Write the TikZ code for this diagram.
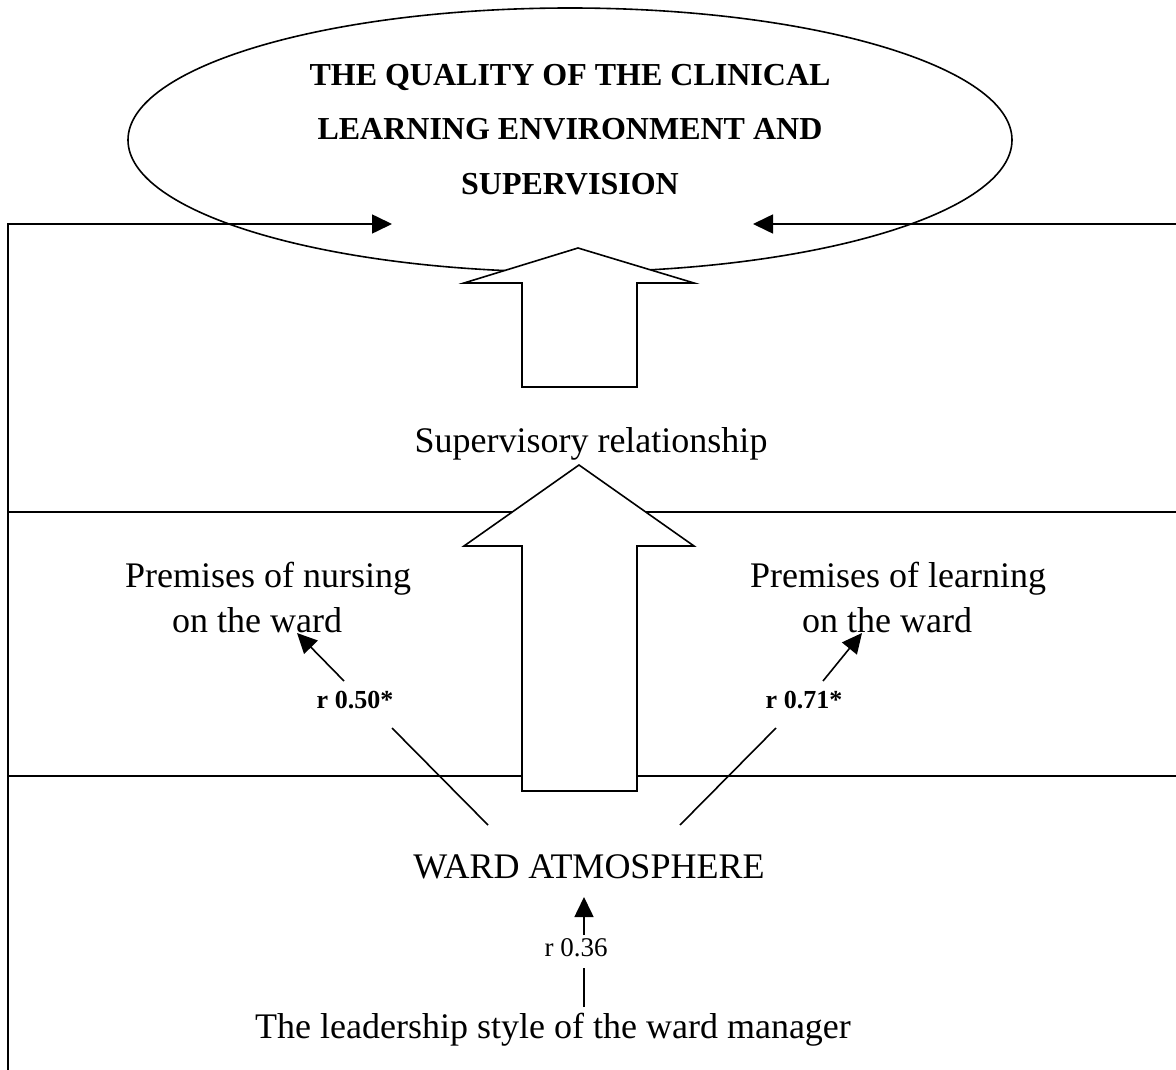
\documentclass[tikz,border=0pt]{standalone}
\usepackage{fontspec}
\setmainfont{Liberation Serif}
\usetikzlibrary{arrows.meta,shapes.geometric}
\begin{document}
\begin{tikzpicture}[x=1pt,y=-1pt,
  ln/.style={line width=1.6pt},
  arr/.style={line width=1.6pt,-{Triangle[length=20pt,width=19pt]}},
  blockarrow/.style={draw,fill=white,line width=1.6pt,line join=miter},
  txt/.style={inner sep=0pt,anchor=base,font=\fontsize{36}{45}\selectfont},
  rlab/.style={inner sep=0pt,anchor=base,font=\bfseries\fontsize{26}{30}\selectfont}]
\useasboundingbox (0,0) rectangle (1176,1070);
% goal ellipse
\node[draw,ellipse,line width=1.6pt,minimum width=884pt,minimum height=264pt,inner sep=0pt] (goal) at (570,140) {};
\node[inner sep=0pt,anchor=base,align=center,font=\bfseries\fontsize{32}{55}\selectfont] (title) at (570,195)
  {THE QUALITY OF THE CLINICAL\\LEARNING ENVIRONMENT AND\\SUPERVISION};
% frame
\coordinate (bl) at (8,1070);
\coordinate (tl) at (8,224);
\coordinate (lt) at (392,224);
\coordinate (tr) at (1176,224);
\coordinate (rt) at (753,224);
\draw[arr] (bl) -- (tl) -- (lt);
\draw[arr] (tr) -- (rt);
\coordinate (b1l) at (8,512);  \coordinate (b1r) at (1176,512);
\coordinate (b2l) at (8,776);  \coordinate (b2r) at (1176,776);
\draw[ln] (b1l) -- (b1r);
\draw[ln] (b2l) -- (b2r);
% block arrows
\draw[blockarrow] (578,248) -- (694,283) -- (637,283) -- (637,387) -- (522,387) -- (522,283) -- (464,283) -- cycle;
\draw[blockarrow] (579,465) -- (694,546) -- (637,546) -- (637,791) -- (522,791) -- (522,546) -- (464,546) -- cycle;
% texts
\node[txt] (sup) at (591,452) {Supervisory relationship};
\node[txt,anchor=base west,align=left] (pn) at (125,632) {Premises of nursing\\\hspace*{47pt}on the ward};
\node[txt,anchor=base west,align=left] (pl) at (750,632) {Premises of learning\\\hspace*{52pt}on the ward};
\node[rlab] (r50) at (355,708) {r 0.50*};
\node[rlab] (r71) at (804,708) {r 0.71*};
\node[txt] (wa) at (589,878) {WARD ATMOSPHERE};
\node[inner sep=0pt,anchor=base,font=\fontsize{27}{30}\selectfont] (r36) at (576,956) {r 0.36};
\node[txt] (lead) at (553,1038) {The leadership style of the ward manager};
% correlation connectors
\coordinate (a1s) at (488,825); \coordinate (a1e) at (392,728);
\coordinate (a2s) at (344,681); \coordinate (a2e) at (297,633);
\draw[ln] (a1s) -- (a1e);
\draw[arr] (a2s) -- (a2e);
\coordinate (b1s) at (680,825); \coordinate (b1e) at (776,728);
\coordinate (b2s) at (823,681); \coordinate (b2e) at (862,633);
\draw[ln] (b1s) -- (b1e);
\draw[arr] (b2s) -- (b2e);
\coordinate (c1s) at (584,1007); \coordinate (c1e) at (584,968);
\coordinate (c2s) at (584,935); \coordinate (c2e) at (584,897);
\draw[ln] (c1s) -- (c1e);
\draw[arr] (c2s) -- (c2e);
\end{tikzpicture}
\end{document}
